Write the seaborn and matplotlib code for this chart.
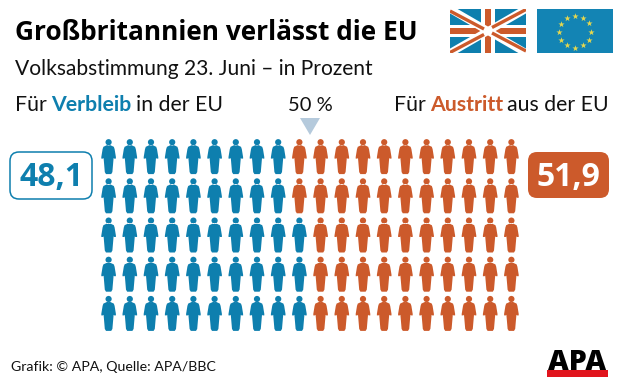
import matplotlib
matplotlib.use("Agg")
import matplotlib.pyplot as plt
import numpy as np
import pandas as pd
import seaborn as sns
from matplotlib.path import Path
from matplotlib.patches import FancyBboxPatch, Polygon, Rectangle

# data
remain_share = "48,1"
leave_share = "51,9"
sides = ["Verbleib", "Austritt"]
blue_per_row = [9, 9, 10, 10, 10]
n_cols = 20

title = "Großbritannien verlässt die EU"
subtitle = "Volksabstimmung 23. Juni – in Prozent"
mid_label = "50 %"
source = "Grafik: © APA, Quelle: APA/BBC"

BLUE = "#0E7FAE"
ORANGE = "#CC5A2B"
FONT = "Lato"
BOLD = ["Open Sans", "DejaVu Sans"]

rows = []
for r, n_blue in enumerate(blue_per_row):
    for c in range(n_cols):
        rows.append({"col": c, "row": r, "side": sides[0] if c < n_blue else sides[1]})
df = pd.DataFrame(rows)

sns.set_theme(style="white")
plt.rcParams["font.family"] = [FONT, "DejaVu Sans"]

fig = plt.figure(figsize=(6.2, 3.88), dpi=100, facecolor="white")

# background axes in pixels, for the texts and the flags
bg = fig.add_axes([0, 0, 1, 1])
bg.set_xlim(0, 620)
bg.set_ylim(388, 0)
bg.axis("off")

# waffle of people
body = [(-1.8, 11.4), (1.8, 11.4), (5.2, 9.8), (6, 7.5), (7.3, -0.5), (7.3, -2), (5.6, -2), (5, -1.4),
        (3.8, -15.5), (2.6, -17.5), (-2.6, -17.5), (-3.8, -15.5),
        (-5, -1.4), (-5.6, -2), (-7.3, -2), (-7.3, -0.5), (-6, 7.5), (-5.2, 9.8), (-1.8, 11.4)]
person = Path.make_compound_path(Path.circle((0, 14.4), 3.1), Path(body, closed=True))

ax = fig.add_axes([98 / 620, 1 - 333 / 388, 424 / 620, 196 / 388])
ax.patch.set_alpha(0)
sns.scatterplot(data=df, x="col", y="row", hue="side", palette={sides[0]: BLUE, sides[1]: ORANGE},
                marker=person, s=635, linewidth=0, legend=False, ax=ax)
ax.set_xlim(-0.5, n_cols - 0.5)
ax.set_ylim(len(blue_per_row) - 0.5, -0.5)
ax.axis("off")

# texts
bg.text(15, 40, title, fontsize=18.9, fontweight="bold", color="black", va="baseline", family=BOLD)
bg.text(15, 75, subtitle, fontsize=15.1, color="#111111", va="baseline")


def chain(x, y, parts, gap, size=15.3):
    r = fig.canvas.get_renderer()
    for txt, col, w in parts:
        t = bg.text(x, y, txt, fontsize=size, color=col, fontweight=w, va="baseline")
        ext = t.get_window_extent(r)
        x = ext.x1 + gap


chain(15, 111, [("Für", "#111111", "normal"), (sides[0], BLUE, "bold"), ("in der EU", "#111111", "normal")], 4.4)
chain(394, 111, [("Für", "#111111", "normal"), (sides[1], ORANGE, "bold"), ("aus der EU", "#111111", "normal")], 4)
bg.text(310, 111, mid_label, fontsize=14.5, color="#111111", ha="center", va="baseline")
bg.add_patch(Polygon([(300, 118), (320, 118), (310, 135)], closed=True, fc="#B5CADC", ec="none"))

bg.add_patch(FancyBboxPatch((18, 160), 66, 31, boxstyle="round,pad=8,rounding_size=9", fc="white", ec=BLUE, lw=1.1))
bg.text(51, 186, remain_share, fontsize=23, fontweight="bold", color=BLUE, ha="center", va="baseline", family=BOLD)
bg.add_patch(FancyBboxPatch((536, 160), 65, 30, boxstyle="round,pad=8,rounding_size=9", fc=ORANGE, ec="none"))
bg.text(568.5, 186, leave_share, fontsize=23, fontweight="bold", color="white", ha="center", va="baseline", family=BOLD)

bg.text(11, 371, source, fontsize=10.2, color="#111111", va="baseline")

# UK flag
x0, x1, y0, y1 = 450, 526, 9, 53
clip = Rectangle((x0, y0), x1 - x0, y1 - y0, transform=bg.transData)
bg.add_patch(Rectangle((x0, y0), x1 - x0, y1 - y0, fc=BLUE, ec="none"))
for (xa, ya, xb, yb) in [(x0, y0, x1, y1), (x0, y1, x1, y0)]:
    l, = bg.plot([xa, xb], [ya, yb], color="white", lw=5.5, solid_capstyle="butt")
    l.set_clip_path(clip)
for seg in [([x0, 484], [y0 + 2, 29]), ([492, x1], [33, y1 - 2]), ([x0, 484], [y1 - 0.5, 34.5]), ([492, x1], [27.5, y0 + 0.5])]:
    l, = bg.plot(seg[0], seg[1], color=ORANGE, lw=2.4, solid_capstyle="butt")
    l.set_clip_path(clip)
bg.add_patch(Rectangle((x0, 25), x1 - x0, 12, fc="white", ec="none"))
bg.add_patch(Rectangle((481, y0), 14, y1 - y0, fc="white", ec="none"))
bg.add_patch(Rectangle((x0, 28), x1 - x0, 6, fc=ORANGE, ec="none"))
bg.add_patch(Rectangle((484.5, y0), 6.5, y1 - y0, fc=ORANGE, ec="none"))

# EU flag
bg.add_patch(Rectangle((537, 9), 76, 44, fc="#1384B4", ec="none"))
ang = np.deg2rad(np.arange(0, 360, 30))
bg.scatter(575 + 16 * np.cos(ang), 31.5 + 16 * np.sin(ang), marker="*", s=22, c="#E6D84E", linewidths=0)

# logo
bg.text(577.5, 370, "APA", fontsize=20.5, fontweight=800, color="black", ha="center", va="baseline", family=BOLD)
bg.add_patch(Rectangle((547, 370), 61, 7, fc="#E1141C", ec="none"))

fig.savefig("out.png", dpi=100)
